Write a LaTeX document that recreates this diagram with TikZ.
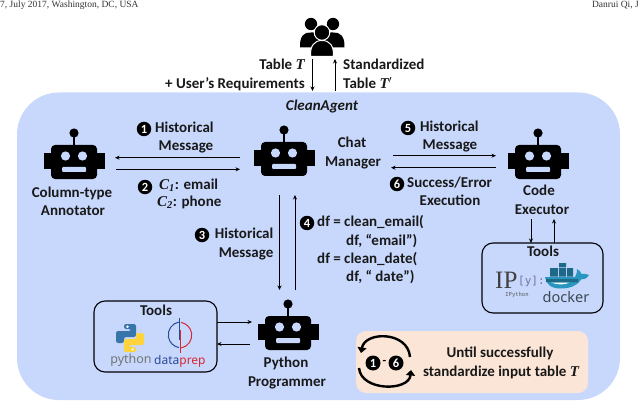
\documentclass[tikz,border=0pt]{standalone}
\usepackage{fontspec}
\setmainfont{Carlito}
\newfontfamily\serif{Liberation Serif}
\newfontfamily\monof{DejaVu Sans Mono}
\newfontfamily\logof{Noto Sans}
\newcommand{\mi}[1]{{\serif\bfseries\itshape #1}}
\usetikzlibrary{arrows.meta}
\definecolor{panel}{RGB}{200,216,253}
\definecolor{peach}{RGB}{251,229,214}
\definecolor{pyblue}{RGB}{55,118,171}
\definecolor{pyyellow}{RGB}{255,212,59}
\definecolor{dpblue}{RGB}{40,75,150}
\definecolor{dpred}{RGB}{215,40,50}
\definecolor{dkteal}{RGB}{30,105,135}
\definecolor{ltteal}{RGB}{40,150,190}
\definecolor{dkgray}{RGB}{60,72,82}
\tikzset{
  x=1pt,y=-1pt,
  lbl/.style={font=\fontsize{15}{18}\selectfont\bfseries,inner sep=0pt,text height=10pt,text depth=3pt,text=black!90},
  num/.style={circle,fill=black,text=white,inner sep=0pt,minimum size=14.5pt,font=\fontsize{12.5}{12.5}\selectfont\bfseries},
  conn/.style={line width=1pt,black,-{Stealth[length=4.5pt,width=4pt]}},
  toolbox/.style={draw=black,line width=1.1pt,rounded corners=11pt},
  hdr/.style={font=\fontsize{9.5}{11}\selectfont\serif,inner sep=0pt,text=black!80},
  loop/.style={line width=2.4pt,black,-{Triangle[length=5.5pt,width=9pt]}}
}
\newcommand{\robot}[3]{%
  \node[minimum width=61pt,minimum height=50pt,inner sep=0pt] (#1) at (#2,#3) {};
  \begin{scope}[shift={(#2,#3)}]
    \fill[black] (-30.5,-9) rectangle (30.5,7);
    \fill[black,rounded corners=4pt] (-23,-17) rectangle (23,17);
    \draw[black,line width=1.4pt] (0,-29) -- (0,-16);
    \fill[black] (0,-29) circle (4.6pt);
    \fill[panel] (-8.5,-6) circle (4.6pt) (8.5,-6) circle (4.6pt);
    \fill[panel,rounded corners=1pt] (-12,5) rectangle (12,10);
  \end{scope}}
\begin{document}
\begin{tikzpicture}
\useasboundingbox (0,0) rectangle (640,401);
\fill[white] (0,0) rectangle (640,401);
% header
\node[hdr,anchor=base west] (hl) at (0,7.5) {7, July 2017, Washington, DC, USA};
\node[hdr,anchor=base east] (hr) at (639,7.5) {Danrui Qi, J};
% panel
\fill[panel,rounded corners=42pt] (17,92.5) rectangle (620,400);
\node[lbl,font=\fontsize{15}{18}\selectfont\bfseries\itshape] (title) at (322,107) {CleanAgent};
% users icon
\node[minimum width=46pt,minimum height=38pt,inner sep=0pt] (users) at (322,37) {};
\fill[black] (311,24) circle (6.2pt) (333,24) circle (6.2pt);
\fill[black] (300,47.5) .. controls (299.5,36) and (304,32) .. (311,32.5) -- (333,32.5) .. controls (340,32) and (345,36) .. (344.5,47.5) -- cycle;
\fill[black,draw=white,line width=1pt] (322,32.5) circle (7.8pt);
\fill[black,draw=white,line width=1pt] (310.5,56.5) .. controls (310,46) and (314,40.5) .. (322,40.5) .. controls (330,40.5) and (334,46) .. (333.5,56.5) -- cycle;
% top arrows
\coordinate (d0) at (312.5,59);
\coordinate (d1) at (312.5,91);
\coordinate (u0) at (335,91);
\coordinate (u1) at (335,59);
\draw[conn] (d0) -- (d1);
\draw[conn] (u0) -- (u1);
\node[lbl,anchor=east] (l1) at (305,66) {Table \mi{T}};
\node[lbl,anchor=east] (l2) at (305,85) {+ User’s Requirements};
\node[lbl,anchor=west] (l3) at (343,66) {Standardized};
\node[lbl,anchor=west] (l4) at (343,85) {Table \mi{T}$'$};
% robots
\robot{ann}{74}{162}
\robot{mgr}{284}{159}
\robot{exe}{538}{162}
\robot{prg}{288}{333}
\node[lbl] (a1) at (72,194) {Column-type};
\node[lbl] (a2) at (73,212) {Annotator};
\node[lbl] (m1) at (352,144) {Chat};
\node[lbl] (m2) at (353,163) {Manager};
\node[lbl] (e1) at (539,192) {Code};
\node[lbl] (e2) at (542,211) {Executor};
\node[lbl] (p1) at (286,364) {Python};
\node[lbl] (p2) at (287,383) {Programmer};
% horizontal connectors
\coordinate (c1a) at (240,157.7);
\coordinate (c1b) at (115,157.7);
\coordinate (c2a) at (116,169.3);
\coordinate (c2b) at (240,169.3);
\draw[conn] (c1a) -- (c1b);
\draw[conn] (c2a) -- (c2b);
\coordinate (c5a) at (393,155.7);
\coordinate (c5b) at (496,155.7);
\coordinate (c6a) at (496,167.7);
\coordinate (c6b) at (391,167.7);
\draw[conn] (c5a) -- (c5b);
\draw[conn] (c6a) -- (c6b);
% vertical connectors
\coordinate (c3a) at (279.5,195);
\coordinate (c3b) at (279.5,290);
\coordinate (c4a) at (295,290);
\coordinate (c4b) at (295,195);
\draw[conn] (c3a) -- (c3b);
\draw[conn] (c4a) -- (c4b);
% step labels
\node[num] (n1) at (144,129) {1};
\node[lbl,anchor=west] (t1a) at (155,129) {Historical};
\node[lbl] (t1b) at (186,147) {Message};
\node[num] (n2) at (145,187) {2};
\node[lbl,anchor=west] (t2a) at (159,186) {\mi{C}\textsubscript{\mi{1}}: email};
\node[lbl,anchor=west] (t2b) at (157,203) {\mi{C}\textsubscript{\mi{2}}: phone};
\node[num] (n3) at (202,235) {3};
\node[lbl,anchor=east] (t3a) at (273.5,235) {Historical};
\node[lbl,anchor=east] (t3b) at (273.5,254) {Message};
\node[num] (n4) at (307,223) {4};
\node[lbl,anchor=west] (t4a) at (317,223) {df = clean\_email(};
\node[lbl,anchor=west] (t4b) at (346,242) {df, “email”)};
\node[lbl,anchor=west] (t4c) at (317,260) {df = clean\_date(};
\node[lbl,anchor=west] (t4d) at (346,278) {df, “ date”)};
\node[num] (n5) at (408,128) {5};
\node[lbl,anchor=west] (t5a) at (420,128) {Historical};
\node[lbl] (t5b) at (450,146) {Message};
\node[num] (n6) at (397,184) {6};
\node[lbl,anchor=west] (t6a) at (407,184) {Success/Error};
\node[lbl] (t6b) at (450,202) {Execution};
% executor tools
\draw[toolbox] (482,243) rectangle (603,313);
\node[inner sep=0pt,minimum width=121pt,minimum height=70pt] (tbe) at (542.5,278) {};
\node[lbl] (tbet) at (543,253) {Tools};
\coordinate (e3a) at (531,219);
\coordinate (e3b) at (531,243);
\coordinate (e4a) at (554,243);
\coordinate (e4b) at (554,219);
\draw[conn] (e3a) -- (e3b);
\draw[conn] (e4a) -- (e4b);
\node[inner sep=0pt,anchor=west,font=\fontsize{25}{25}\selectfont\serif,text=black!75] (ip) at (495,280) {IP};
\node[inner sep=0pt,anchor=west,font=\fontsize{11}{12}\selectfont\monof,text=blue!30!black!55] (ipy) at (518,281) {[y]:};
\node[inner sep=0pt,font=\fontsize{5.5}{6}\selectfont\monof,text=black!65] (ipt) at (517,295) {IPython};
% docker whale
\fill[ltteal] (545,277) -- (575,277) .. controls (577,273) and (577,272) .. (577,269) .. controls (579,270) and (581,272) .. (581.5,274) .. controls (583,273.5) and (586,273.5) .. (589,275) .. controls (587,278.5) and (584,279.5) .. (581,279.5) .. controls (577,286) and (570,288.5) .. (560,288.5) .. controls (551,288.5) and (546,284) .. (545,277) -- cycle;
\fill[dkteal] (550,268) rectangle (558,276.5) (559,268) rectangle (566,276.5) (567,268) rectangle (573,276.5) (559,263) rectangle (566,267.3) (546,279) rectangle (578,282);
\fill[white] (551,282.6) -- (569,282.6) .. controls (565,285) and (558,285) .. (551,282.6) -- cycle;
\node[inner sep=0pt,font=\fontsize{14.5}{15}\selectfont\logof,text=dkgray] (dk) at (566,297) {docker};
% programmer tools
\draw[toolbox] (94,301) rectangle (217,372);
\node[inner sep=0pt,minimum width=123pt,minimum height=71pt] (tbp) at (155.5,336.5) {};
\node[lbl] (tbpt) at (156,312) {Tools};
\coordinate (p3a) at (217,322);
\coordinate (p3b) at (252,322);
\coordinate (p4a) at (250,344);
\coordinate (p4b) at (217,344);
\draw[conn] (p3a) -- (p3b);
\draw[conn] (p4a) -- (p4b);
% python logo
\begin{scope}[shift={(130,338)}]
  \fill[pyblue,rounded corners=2.2pt] (-6,-14) -- (6,-14) -- (6,-1) -- (-6,-1) -- (-6,5) -- (-14,5) -- (-14,-7) -- (1,-7) -- (1,-9) -- (-6,-9) -- cycle;
  \fill[white] (-2.5,-11.3) circle (1.3pt);
  \fill[pyyellow,rounded corners=2.2pt] (6,14) -- (-6,14) -- (-6,1) -- (6,1) -- (6,-5) -- (14,-5) -- (14,7) -- (-1,7) -- (-1,9) -- (6,9) -- cycle;
  \fill[white] (2.5,11.3) circle (1.3pt);
\end{scope}
\node[inner sep=0pt,font=\fontsize{12.5}{13}\selectfont\logof,text=black!55] (py) at (131,360) {python};
% dataprep logo
\draw[dpblue,line width=1pt] (179,322) arc[start angle=100,end angle=260,radius=13pt];
\draw[dpred,line width=1pt] (181,348) arc[start angle=-80,end angle=80,radius=13pt];
\draw[dpblue,line width=1pt] (179,318) -- (179,340);
\draw[dpred,line width=1pt] (180.5,330) -- (180.5,353);
\node[inner sep=0pt,anchor=west,font=\fontsize{12}{13}\selectfont\logof] (dp) at (154,361.5) {\textcolor{dpblue}{data}\textcolor{dpred}{prep}};
% loop box
\fill[peach,rounded corners=10pt] (356,331) rectangle (588,393);
\node[inner sep=0pt,minimum width=232pt,minimum height=62pt] (lbox) at (472,362) {};
\node[lbl] (u1t) at (500,354) {Until successfully};
\node[lbl] (u2t) at (501,373) {standardize input table \mi{T}};
\node[num,minimum size=15pt] (lo1) at (373,363) {1};
\node[num,minimum size=15pt] (lo6) at (396,363) {6};
\node[inner sep=0pt,font=\fontsize{12}{12}\selectfont\bfseries] (lod) at (384.5,362) {-};
\coordinate (la0) at (410,357);
\coordinate (la1) at (361,353);
\coordinate (lb0) at (359,368);
\coordinate (lb1) at (411,370);
\draw[loop] (la0) .. controls (408,331) and (365,331) .. (la1);
\draw[loop] (lb0) .. controls (361,391.5) and (409,391.5) .. (lb1);
\end{tikzpicture}
\end{document}
